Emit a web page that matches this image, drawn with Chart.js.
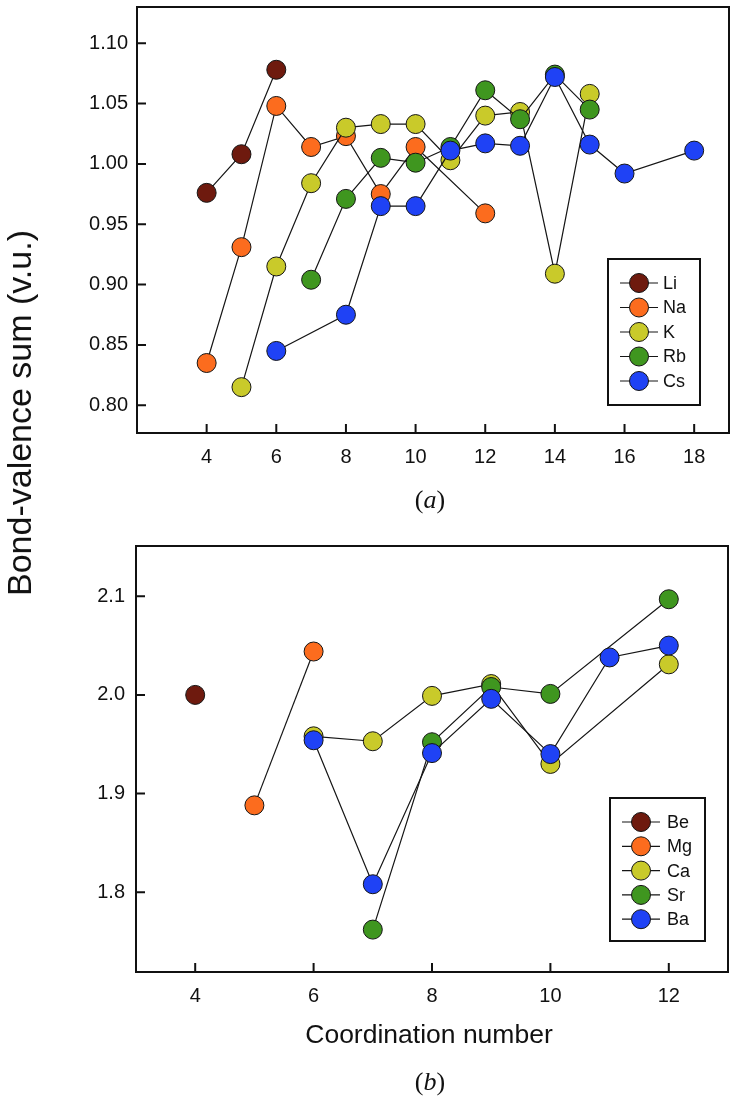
<!DOCTYPE html>
<html><head><meta charset="utf-8">
<script src="https://cdn.jsdelivr.net/npm/chart.js@4.4.0/dist/chart.umd.min.js"></script>
<style>
html,body{margin:0;padding:0;background:#fff}
body{width:734px;height:1098px;position:relative;overflow:hidden;font-family:"Liberation Sans",Arial,sans-serif;color:#111}
.wrap{position:absolute;left:0}
.lbl{position:absolute;white-space:nowrap;line-height:1;transform:translate(-50%,-50%)}
</style></head><body>
<div class="wrap" style="top:0"><canvas id="c1" width="734" height="470"></canvas></div>
<div class="wrap" style="top:470px"><canvas id="c2" width="734" height="628"></canvas></div>
<div class="lbl" style="left:19px;top:413px;font-size:34px;transform:translate(-50%,-50%) rotate(-90deg)">Bond-valence sum (v.u.)</div>
<div class="lbl" style="left:430px;top:500px;font-size:26px;font-family:'Liberation Serif','Times New Roman',serif">(<i>a</i>)</div>
<div class="lbl" style="left:429px;top:1034px;font-size:26.5px">Coordination number</div>
<div class="lbl" style="left:430px;top:1082px;font-size:26px;font-family:'Liberation Serif','Times New Roman',serif">(<i>b</i>)</div>
<script>
// ---- Panel (a) data ----
const topLabels = ['Li','Na','K','Rb','Cs'];
const liX = [4,5,6];                         const liY = [0.976,1.008,1.078];
const naX = [4,5,6,7,8,9,10,12];             const naY = [0.835,0.931,1.048,1.014,1.023,0.975,1.014,0.959];
const kX  = [5,6,7,8,9,10,11,12,13,14,15];   const kY  = [0.815,0.915,0.984,1.030,1.033,1.033,1.003,1.040,1.043,0.909,1.058];
const rbX = [7,8,9,10,11,12,13,14,15];       const rbY = [0.904,0.971,1.005,1.001,1.014,1.061,1.037,1.074,1.045];
const csX = [6,8,9,10,11,12,13,14,15,16,18]; const csY = [0.845,0.875,0.965,0.965,1.011,1.017,1.015,1.072,1.016,0.992,1.011];
const topXTicks = [4,6,8,10,12,14,16,18];
const topYTicks = [0.80,0.85,0.90,0.95,1.00,1.05,1.10];

// ---- Panel (b) data ----
const botLabels = ['Be','Mg','Ca','Sr','Ba'];
const beX = [4];                  const beY = [2.000];
const mgX = [5,6];                const mgY = [1.888,2.044];
const caX = [6,7,8,9,10,12];      const caY = [1.958,1.953,1.999,2.011,1.930,2.031];
const srX = [7,8,9,10,12];        const srY = [1.762,1.952,2.008,2.001,2.097];
const baX = [6,7,8,9,10,11,12];   const baY = [1.954,1.808,1.941,1.996,1.940,2.038,2.050];
const botXTicks = [4,6,8,10,12];
const botYTicks = [1.8,1.9,2.0,2.1];

const colors = ['#6e1a0e','#fc6c1e','#c9ca2a','#3f961f','#1f42f5'];
const FONT = '"Liberation Sans", Arial, sans-serif';

function pts(xs, ys){ return xs.map((x,i)=>({x:x, y:ys[i]})); }
function mkDatasets(labels, series){
  return series.map((s,i)=>({
    label: labels[i],
    data: pts(s[0], s[1]),
    borderColor: '#151515',
    borderWidth: 1.2,
    backgroundColor: colors[i],
    pointBackgroundColor: colors[i],
    pointBorderColor: '#151515',
    pointBorderWidth: 1,
    pointRadius: 9.5,
    pointHoverRadius: 9.5,
    tension: 0,
    fill: false,
    order: series.length - 1 - i
  }));
}

const framePlugin = {
  id: 'frame',
  afterDraw(chart, args, opts){
    const ctx = chart.ctx, a = chart.chartArea;
    ctx.save();
    ctx.strokeStyle = '#111';
    ctx.lineWidth = 2;
    ctx.strokeRect(a.left, a.top, a.right - a.left, a.bottom - a.top);
    const xs = chart.scales.x, ys = chart.scales.y;
    ctx.beginPath();
    xs.ticks.forEach(t=>{ const p = xs.getPixelForValue(t.value); ctx.moveTo(p, a.bottom); ctx.lineTo(p, a.bottom - 9); });
    ys.ticks.forEach(t=>{ const p = ys.getPixelForValue(t.value); ctx.moveTo(a.left, p); ctx.lineTo(a.left + 9, p); });
    ctx.stroke();
    // legend
    const L = opts.box;
    ctx.fillStyle = '#fff';
    ctx.fillRect(L.x, L.y, L.w, L.h);
    ctx.lineWidth = 2;
    ctx.strokeRect(L.x, L.y, L.w, L.h);
    chart.data.datasets.forEach((d,i)=>{
      const cy = L.y + L.first + i * L.step;
      ctx.beginPath();
      ctx.lineWidth = 1.2;
      ctx.strokeStyle = '#151515';
      ctx.moveTo(L.mx - 19, cy); ctx.lineTo(L.mx + 19, cy); ctx.stroke();
      ctx.beginPath();
      ctx.arc(L.mx, cy, 9.5, 0, Math.PI*2);
      ctx.fillStyle = d.backgroundColor; ctx.fill();
      ctx.lineWidth = 1; ctx.stroke();
      ctx.fillStyle = '#111';
      ctx.font = '18px ' + FONT;
      ctx.textBaseline = 'middle';
      ctx.textAlign = 'left';
      ctx.fillText(d.label, L.tx, cy + 1);
    });
    ctx.restore();
  }
};

function mkChart(id, labels, series, xr, yr, xt, yt, yDec, area, yW, xH, xPad, yPad, box){
  const cv = document.getElementById(id);
  const chart = new Chart(cv, {
    type: 'line',
    data: { datasets: mkDatasets(labels, series) },
    options: {
      responsive: false,
      animation: false,
      events: [],
      layout: { padding: {top: area.top, left: 0, right: cv.width - area.right, bottom: 0}, autoPadding: false },
      plugins: { legend: {display:false}, tooltip: {enabled:false}, frame: { box: box } },
      scales: {
        x: {
          type: 'linear', min: xr[0], max: xr[1],
          grid: {display:false, drawTicks:false}, border: {display:false},
          afterBuildTicks: s => { s.ticks = xt.map(v=>({value:v})); },
          afterFit: s => { s.height = xH; s.paddingLeft = 0; s.paddingRight = 0; s.paddingTop = 0; s.paddingBottom = 0; },
          ticks: { padding: xPad, color: '#111', font: {size: 20, family: FONT}, callback: v => String(v), maxRotation: 0 }
        },
        y: {
          type: 'linear', min: yr[0], max: yr[1],
          grid: {display:false, drawTicks:false}, border: {display:false},
          afterBuildTicks: s => { s.ticks = yt.map(v=>({value:v})); },
          afterFit: s => { s.width = yW; s.paddingLeft = 0; s.paddingRight = 0; s.paddingTop = 0; s.paddingBottom = 0; },
          ticks: { padding: yPad, color: '#111', font: {size: 20, family: FONT}, callback: v => Number(v).toFixed(yDec) }
        }
      }
    },
    plugins: [framePlugin]
  });
  // nudge layout padding so the plot area lands on the intended frame
  for (let k = 0; k < 3; k++) {
    const a = chart.chartArea;
    const p = chart.options.layout.padding;
    const np = {
      top: p.top + (area.top - a.top),
      left: p.left + (area.left - a.left),
      right: p.right + (a.right - area.right),
      bottom: p.bottom + (a.bottom - area.bottom)
    };
    chart.options.layout.padding = np;
    chart.update();
  }
  return chart;
}

mkChart('c1', topLabels,
  [[liX,liY],[naX,naY],[kX,kY],[rbX,rbY],[csX,csY]],
  [2,19], [0.777,1.130], topXTicks, topYTicks, 2,
  {left:137, top:7, right:729, bottom:433}, 137, 37, 12, 9,
  {x:608, y:259, w:92, h:146, first:24, step:24.5, mx:639, tx:663});

mkChart('c2', botLabels,
  [[beX,beY],[mgX,mgY],[caX,caY],[srX,srY],[baX,baY]],
  [3,13], [1.719,2.151], botXTicks, botYTicks, 1,
  {left:136, top:76, right:728, bottom:502}, 136, 126, 12, 11,
  {x:610, y:328, w:95, h:143, first:24, step:24.3, mx:641, tx:667});
</script>
</body></html>
